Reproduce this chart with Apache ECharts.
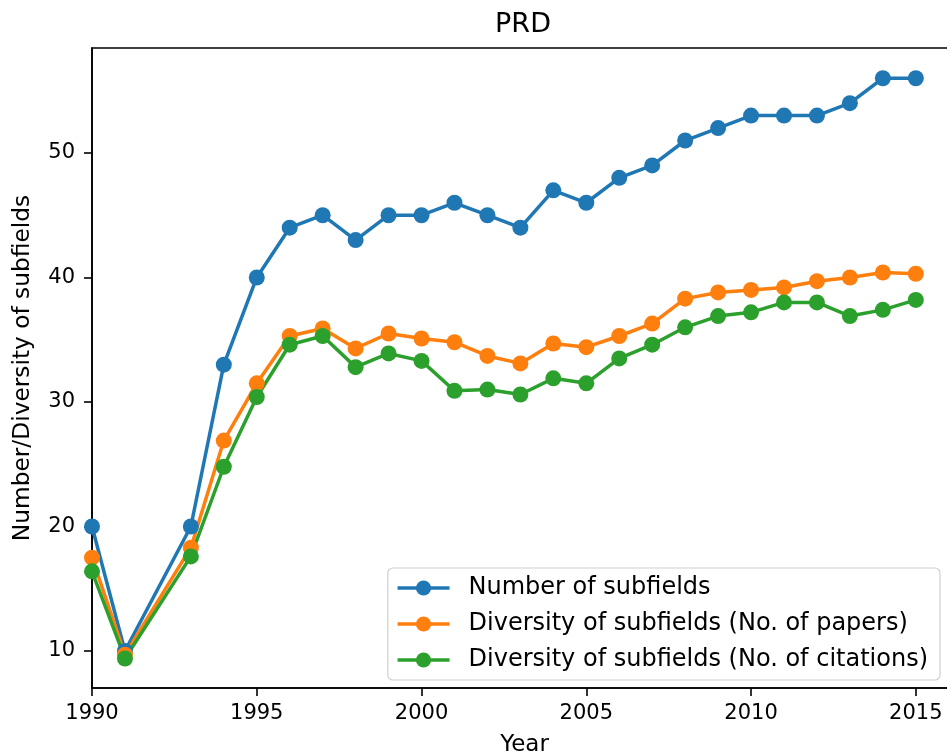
<!DOCTYPE html>
<html>
<head>
<meta charset="utf-8">
<script src="https://cdn.jsdelivr.net/npm/echarts@6/dist/echarts.min.js"></script>
<style>
  html, body { margin: 0; padding: 0; background: #fff; }
  #chart { width: 947px; height: 756px; }
</style>
</head>
<body>
<div id="chart"></div>
<script>
// years (1992 has no point)
const years = [1990, 1991, 1993, 1994, 1995, 1996, 1997, 1998, 1999, 2000, 2001, 2002, 2003,
  2004, 2005, 2006, 2007, 2008, 2009, 2010, 2011, 2012, 2013, 2014, 2015]
const numSubfields = [20, 10, 20, 33, 40, 44, 45, 43, 45, 45, 46, 45, 44,
  47, 46, 48, 49, 51, 52, 53, 53, 53, 54, 56, 56]
const divPapers = [17.5, 9.7, 18.3, 26.9, 31.5, 35.3, 35.9, 34.3, 35.5, 35.1, 34.8, 33.7, 33.1,
  34.7, 34.4, 35.3, 36.3, 38.3, 38.8, 39.0, 39.2, 39.7, 40.0, 40.4, 40.3]
const divCitations = [16.4, 9.4, 17.6, 24.8, 30.4, 34.6, 35.3, 32.8, 33.9, 33.3, 30.9, 31.0, 30.6,
  31.9, 31.5, 33.5, 34.6, 36.0, 36.9, 37.2, 38.0, 38.0, 36.9, 37.4, 38.2]
const xTicks = [1990, 1995, 2000, 2005, 2010, 2015]
const yTicks = [10, 20, 30, 40, 50]

const font = 'DejaVu Sans'
const names = [
  'Number of subfields',
  'Diversity of subfields (No. of papers)',
  'Diversity of subfields (No. of citations)'
]
const colors = ['#1f77b4', '#ff7f0e', '#2ca02c']

function pairs(vals) {
  return years.map((y, i) => [y, vals[i]])
}

function makeSeries(name, vals, color) {
  return {
    name: name,
    type: 'line',
    data: pairs(vals),
    symbol: 'circle',
    symbolSize: 16,
    color: color,
    lineStyle: { width: 3.5, color: color },
    itemStyle: { color: color },
    emphasis: { disabled: true },
    animation: false
  }
}

const chart = echarts.init(document.getElementById('chart'))
chart.setOption({
  backgroundColor: 'white',
  title: {
    text: 'PRD',
    left: 518,
    textAlign: 'center',
    top: 6,
    textStyle: { fontFamily: font, fontWeight: 'normal', fontSize: 27, color: '#000' }
  },
  legend: {
    orient: 'vertical',
    right: 7,
    bottom: 76,
    data: names,
    itemWidth: 52,
    itemHeight: 19,
    itemGap: 8,
    padding: [6, 12, 6, 8],
    borderColor: '#d0d0d0',
    borderWidth: 1.2,
    borderRadius: 5,
    backgroundColor: 'rgba(255,255,255,0.85)',
    lineStyle: { width: 3.5 },
    textStyle: { fontFamily: font, fontSize: 24, color: '#000', lineHeight: 28, padding: [0, 0, 0, 14] }
  },
  grid: {
    left: 92,
    top: 48,
    width: 865,
    bottom: 68,
    outerBoundsMode: 'none',
    show: true,
    borderColor: '#000',
    borderWidth: 1.6
  },
  xAxis: {
    type: 'value',
    min: 1990,
    max: 2016.25,
    name: 'Year',
    nameLocation: 'middle',
    nameGap: 46,
    nameTextStyle: { fontFamily: font, fontSize: 23, color: '#000' },
    axisLine: { show: true, lineStyle: { color: '#000', width: 1.6 } },
    axisTick: { show: true, length: 8, customValues: xTicks, lineStyle: { color: '#000', width: 1.6 } },
    axisLabel: {
      customValues: xTicks, margin: 15, fontFamily: font, fontSize: 21, color: '#000',
      formatter: v => String(v)
    },
    splitLine: { show: false }
  },
  yAxis: {
    type: 'value',
    min: 7.03,
    max: 58.43,
    name: 'Number/Diversity of subfields',
    nameLocation: 'middle',
    nameGap: 58,
    nameTextStyle: { fontFamily: font, fontSize: 23.3, color: '#000' },
    axisLine: { show: true, lineStyle: { color: '#000', width: 1.6 } },
    axisTick: { show: true, length: 8, customValues: yTicks, lineStyle: { color: '#000', width: 1.6 } },
    axisLabel: { customValues: yTicks, margin: 17, fontFamily: font, fontSize: 21, color: '#000' },
    splitLine: { show: false }
  },
  series: [
    makeSeries(names[0], numSubfields, colors[0]),
    makeSeries(names[1], divPapers, colors[1]),
    makeSeries(names[2], divCitations, colors[2])
  ]
})
</script>
</body>
</html>
